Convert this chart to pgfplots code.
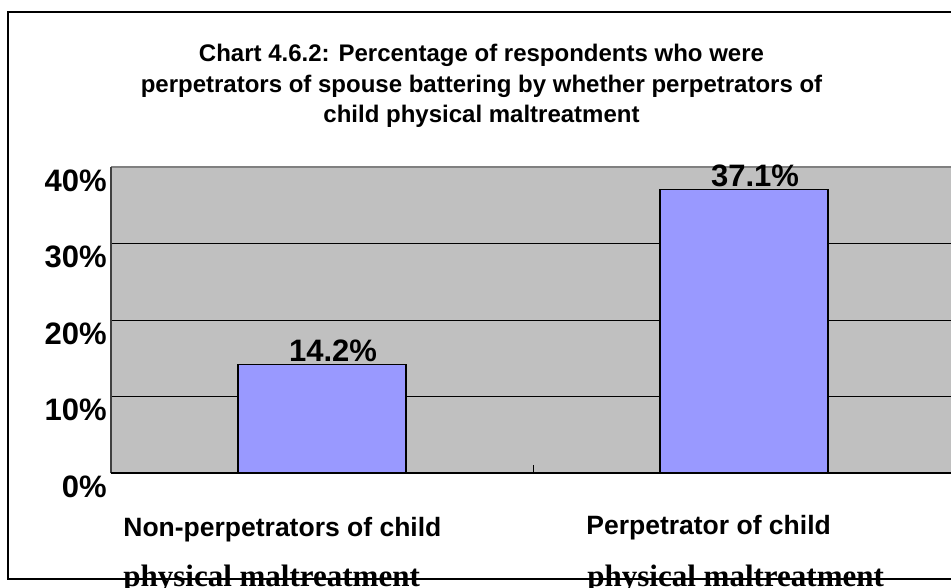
\documentclass[border=0pt]{standalone}
\usepackage{fontspec}
\setmainfont{Liberation Sans}
\newfontfamily\seriffont{Liberation Serif}
\usepackage{pgfplots}
\pgfplotsset{compat=1.18}
\definecolor{plotgray}{HTML}{C0C0C0}
\definecolor{edgegray}{HTML}{808080}
\definecolor{barblue}{HTML}{9999FF}

\begin{document}
\begin{tikzpicture}
\begin{axis}[
    ybar, bar width=84pt, bar shift=0pt,
    x=211pt, y=3.825pt,
    xmin=-0.5, xmax=1.5, ymin=0, ymax=40,
    clip=false,
    axis background/.style={fill=plotgray},
    axis line style={draw=none},
    xtick pos=bottom, ytick pos=left,
    xtick={-0.5,0.5,1.5}, xticklabels={},
    ytick={0,10,20,30,40},
    yticklabel={\pgfmathprintnumber{\tick}\%},
    yticklabel style={font=\fontsize{15.5}{18}\selectfont\bfseries,
        anchor=east, inner sep=0pt, xshift=-2pt, yshift=-6.75pt},
    /pgf/number format/assume math mode=true,
    tick align=inside, xtick align=inside, major tick length=4pt,
    tick style={black, line width=0.5pt},
    ymajorgrids, grid style={black, line width=0.5pt},
    nodes near coords={\pgfmathprintnumber[fixed,fixed zerofill,precision=1]{\pgfplotspointmeta}\%},
    every node near coord/.append style={font=\fontsize{15.5}{18}\selectfont\bfseries,
        anchor=base, yshift=1.25pt, xshift=5.5pt},
]
\addplot[fill=barblue, draw=black, line width=0.6pt] coordinates {(0,14.2) (1,37.1)};

% plot area edges
\draw[edgegray, line width=0.6pt] (rel axis cs:0,1) -- (rel axis cs:1,1);
\draw[black!75, line width=0.6pt] (rel axis cs:0,0) -- (rel axis cs:0,1);
\draw[black, line width=1pt] (rel axis cs:0,0) -- (rel axis cs:1,0);

% title
\node[anchor=base, inner sep=0pt, font=\fontsize{12}{14}\selectfont\bfseries]
    at (axis cs:0.378,53.73) {Chart 4.6.2: Percentage of respondents who were};
\node[anchor=base, inner sep=0pt, font=\fontsize{12}{14}\selectfont\bfseries]
    at (axis cs:0.378,49.80) {perpetrators of spouse battering by whether perpetrators of};
\node[anchor=base, inner sep=0pt, font=\fontsize{12}{14}\selectfont\bfseries]
    at (axis cs:0.378,45.88) {child physical maltreatment};

% outer frame
\draw[black, line width=1pt] (axis cs:2,60.26) -- (axis cs:-0.7429,60.26)
    -- (axis cs:-0.7429,-13.86) -- (axis cs:2,-13.86);

% category labels
\node[anchor=base west, inner sep=0pt, font=\fontsize{13.25}{15}\selectfont\bfseries]
    at (axis cs:-0.4716,-8.3) {Non-perpetrators of child};
\node[anchor=base west, inner sep=0pt, font=\fontsize{13.25}{15}\selectfont\bfseries]
    at (axis cs:0.6256,-8.1) {Perpetrator of child};
\node[anchor=base west, inner sep=0pt, font=\fontsize{15.5}{18}\seriffont\bfseries]
    at (axis cs:-0.4716,-14.77) {physical maltreatment};
\node[anchor=base west, inner sep=0pt, font=\fontsize{15.5}{18}\seriffont\bfseries]
    at (axis cs:0.628,-14.77) {physical maltreatment};

\coordinate (bbsw) at (axis cs:-0.763,-14.902);
\coordinate (bbne) at (axis cs:1.4905,61.83);
\end{axis}
\pgfresetboundingbox
\useasboundingbox (bbsw) rectangle (bbne);
\end{tikzpicture}
\end{document}
